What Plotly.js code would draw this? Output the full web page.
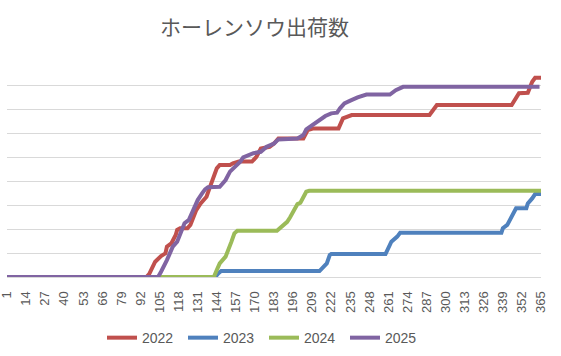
<!DOCTYPE html>
<html>
<head>
<meta charset="utf-8">
<script src="https://cdn.plot.ly/plotly-3.0.1.min.js"></script>
<style>html,body{margin:0;padding:0;background:#fff;}#chart{width:561px;height:356px;}</style>
</head>
<body>
<div id="chart"></div>
<script>
// Tick labels of the day axis
const tickDays = [1,14,27,40,53,66,79,92,105,118,131,144,157,170,183,196,209,222,235,248,261,274,287,300,313,326,339,352,365];

// 2022
const days2022 = [1,96,98,100,102,106,109,110,113,116,117,119,124,126,128,130,133,137,139,142,144,146,153,155,159,168,171,174,180,183,186,203,206,210,227,230,233,236,289,294,345,350,356,359,361,365];
const vals2022 = [0,0,1.3,3.6,6.4,8.8,9.9,12.7,14.1,17.6,19.7,20.4,20.4,21.8,25.2,28,30.8,33.6,37.1,42,45.5,46.9,46.9,47.6,48.3,48.3,50.3,53.8,54.5,55.9,58,58,61.5,62.2,62.2,66.4,67.1,67.8,67.8,72,72,76.9,77.1,81.7,83.4,83.4];

// 2023
const days2023 = [1,143,145,147,214,217,219,221,222,259,261,263,267,269,338,339,342,344,346,348,355,356,359,361,365];
const vals2023 = [0,0,1.5,2.5,2.5,4.3,5.7,9.2,9.6,9.6,12,14.8,16.9,18.5,18.5,20.4,21.8,23.9,26.7,28.8,28.8,30.8,32.9,34.7,34.7];

// 2024
const days2024 = [1,142,144,146,150,152,154,156,158,185,188,192,194,196,199,201,203,205,207,365];
const vals2024 = [0,0,2.9,5.7,8.5,11.3,14.8,18.3,19.4,19.4,21,23.1,25,27.3,30.5,31.1,33.6,35.7,36.1,36.1];

// 2025
const days2025 = [1,104,106,108,110,112,114,117,119,121,122,125,127,129,131,134,136,138,146,150,153,156,160,162,166,169,174,178,183,186,199,203,205,209,213,218,222,226,228,231,235,240,246,262,266,271,364];
const vals2025 = [0,0,2.2,4.3,7.1,9.9,12.7,14.8,17.6,20.4,22.5,23.9,26.6,29.5,32.2,35,36.7,37.6,37.8,40.6,44.1,45.9,48.3,50.1,51,51.8,52.4,54.5,55.9,57.6,58,59.4,61.8,63.6,65.4,67.4,68.5,68.8,70.6,72.7,73.8,75.2,76.4,76.4,78.2,79.6,79.6];

const seriesNames = ['2022','2023','2024','2025'];
const seriesColors = ['#C0504D','#4F81BD','#9BBB59','#8064A2'];
const allDays = [days2022, days2023, days2024, days2025];
const allVals = [vals2022, vals2023, vals2024, vals2025];

const traces = seriesNames.map((n, i) => ({
  type: 'scatter', mode: 'lines', name: n,
  x: allDays[i], y: allVals[i],
  line: {color: seriesColors[i], width: 4},
  hoverinfo: 'skip'
}));

const layout = {
  width: 561, height: 356,
  margin: {l: 7, r: 20, t: 62, b: 79, autoexpand: false},
  paper_bgcolor: '#ffffff', plot_bgcolor: '#ffffff',
  title: {text: 'ホーレンソウ出荷数', x: 260/561, xref: 'paper', xanchor: 'center', y: 0.922, yanchor: 'middle',
          font: {family: '"Noto Sans CJK JP", sans-serif', size: 21, color: '#595959'}},
  showlegend: true,
  legend: {orientation: 'h', x: (102-7)/534, xanchor: 'left', y: -0.284, yanchor: 'middle',
           bgcolor: 'rgba(0,0,0,0)', borderwidth: 0,
           font: {family: '"Liberation Sans", Arial, sans-serif', size: 14, color: '#595959'},
           entrywidth: 36, entrywidthmode: 'pixels'},
  xaxis: {type: 'linear', range: [1, 365], tickmode: 'array', tickvals: tickDays, ticktext: tickDays.map(String),
          tickangle: -90, showgrid: false, zeroline: false, showline: true, linecolor: '#d9d9d9', linewidth: 1,
          ticks: '', ticklabelstandoff: 8, ticklabeloverflow: 'allow', automargin: false,
          tickfont: {family: '"Liberation Sans", Arial, sans-serif', size: 13, color: '#595959'}, fixedrange: true},
  yaxis: {range: [0, 90], dtick: 10, tick0: 0, showticklabels: false, showgrid: true, gridcolor: '#d9d9d9', gridwidth: 1,
          zeroline: false, showline: false, ticks: '', fixedrange: true}
};

Plotly.newPlot('chart', traces, layout, {displayModeBar: false, staticPlot: true});
</script>
</body>
</html>
